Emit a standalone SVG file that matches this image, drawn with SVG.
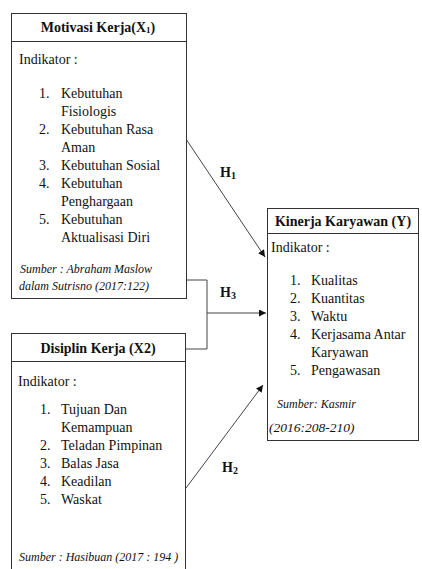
<svg xmlns="http://www.w3.org/2000/svg" width="422" height="569" viewBox="0 0 422 569">
<defs>
<marker id="ah" viewBox="0 0 10 10" refX="10" refY="5" markerWidth="8" markerHeight="7" markerUnits="userSpaceOnUse" orient="auto">
<path d="M0,0 L10,5 L0,10 z" fill="#111"/>
</marker>
<style>
.box{fill:#fff;stroke:#333;stroke-width:1}
.sep{stroke:#333;stroke-width:1}
.t{font-size:14px;fill:#111}
.b{font-weight:bold;text-anchor:middle}
.i{font-style:italic;font-size:12px}
.h{font-size:14px;font-weight:bold;fill:#111}
.c{fill:none;stroke:#444;stroke-width:1}
</style>
</defs>
<rect width="422" height="569" fill="#fff"/>
<g id="connectors" font-family="'Liberation Serif', 'DejaVu Serif', serif">
<path class="c" d="M186,139 L265,257" marker-end="url(#ah)"/>
<path class="c" d="M186,280 H207 V349 H186"/>
<path class="c" d="M207,313 H266" marker-end="url(#ah)"/>
<path class="c" d="M186,488 L263,385" marker-end="url(#ah)"/>
<text class="h" x="220" y="177">H<tspan font-size="10" dy="2">1</tspan></text>
<text class="h" x="220" y="297">H<tspan font-size="10" dy="2">3</tspan></text>
<text class="h" x="222" y="472">H<tspan font-size="10" dy="2">2</tspan></text>
</g>
<g id="motivasi" font-family="'Liberation Serif', 'DejaVu Serif', serif">
<rect class="box" x="11.5" y="13.5" width="175" height="285"/>
<line class="sep" x1="11.5" y1="41.5" x2="186.5" y2="41.5"/>
<text class="t b" x="98" y="32">Motivasi Kerja(X<tspan font-size="9" dy="1">1</tspan><tspan dy="-1">)</tspan></text>
<text class="t" x="19" y="64">Indikator :</text>
<text class="t" x="39" y="98">1.</text><text class="t" x="61" y="98">Kebutuhan</text>
<text class="t" x="61" y="116">Fisiologis</text>
<text class="t" x="39" y="134">2.</text><text class="t" x="61" y="134">Kebutuhan Rasa</text>
<text class="t" x="61" y="152">Aman</text>
<text class="t" x="39" y="170">3.</text><text class="t" x="61" y="170">Kebutuhan Sosial</text>
<text class="t" x="39" y="188">4.</text><text class="t" x="61" y="188">Kebutuhan</text>
<text class="t" x="61" y="206">Penghargaan</text>
<text class="t" x="39" y="224">5.</text><text class="t" x="61" y="224">Kebutuhan</text>
<text class="t" x="61" y="242">Aktualisasi Diri</text>
<text class="t i" x="20" y="273">Sumber : Abraham Maslow</text>
<text class="t i" x="19" y="290">dalam Sutrisno (2017:122)</text>
</g>
<g id="disiplin" font-family="'Liberation Serif', 'DejaVu Serif', serif">
<rect class="box" x="11.5" y="333.5" width="174" height="260"/>
<line class="sep" x1="11.5" y1="361.5" x2="185.5" y2="361.5"/>
<text class="t b" x="98" y="353">Disiplin Kerja (X2)</text>
<text class="t" x="18" y="386">Indikator :</text>
<text class="t" x="40" y="414">1.</text><text class="t" x="61" y="414">Tujuan Dan</text>
<text class="t" x="61" y="432">Kemampuan</text>
<text class="t" x="40" y="450">2.</text><text class="t" x="61" y="450">Teladan Pimpinan</text>
<text class="t" x="40" y="468">3.</text><text class="t" x="61" y="468">Balas Jasa</text>
<text class="t" x="40" y="486">4.</text><text class="t" x="61" y="486">Keadilan</text>
<text class="t" x="40" y="504">5.</text><text class="t" x="61" y="504">Waskat</text>
<text class="t i" x="19" y="561">Sumber : Hasibuan (2017 : 194 )</text>
</g>
<g id="kinerja" font-family="'Liberation Serif', 'DejaVu Serif', serif">
<rect class="box" x="267.5" y="208.5" width="151" height="232"/>
<line class="sep" x1="267.5" y1="233.5" x2="418.5" y2="233.5"/>
<text class="t b" x="343" y="226">Kinerja Karyawan (Y)</text>
<text class="t" x="271" y="252">Indikator :</text>
<text class="t" x="290" y="285">1.</text><text class="t" x="311" y="285">Kualitas</text>
<text class="t" x="290" y="303">2.</text><text class="t" x="311" y="303">Kuantitas</text>
<text class="t" x="290" y="321">3.</text><text class="t" x="311" y="321">Waktu</text>
<text class="t" x="290" y="339">4.</text><text class="t" x="311" y="339">Kerjasama Antar</text>
<text class="t" x="311" y="357">Karyawan</text>
<text class="t" x="290" y="375">5.</text><text class="t" x="311" y="375">Pengawasan</text>
<text class="t i" x="277" y="408">Sumber: Kasmir</text>
<text class="t i" x="269" y="432" style="font-size:13.5px">(2016:208-210)</text>
</g>
</svg>
